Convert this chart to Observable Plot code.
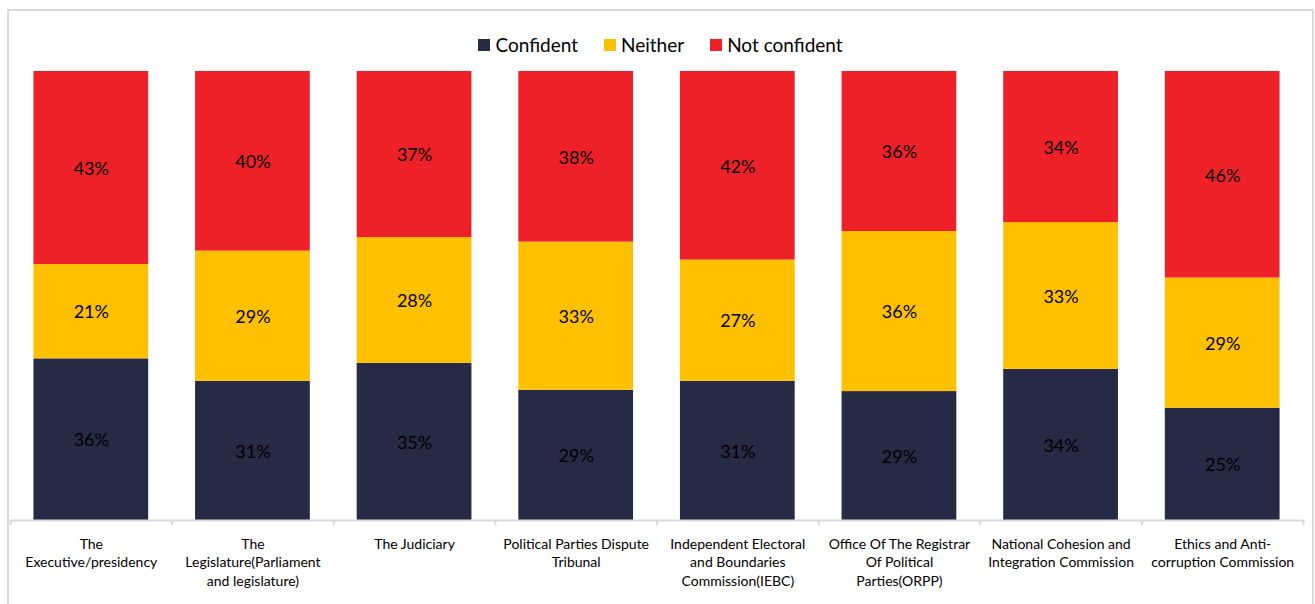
<!DOCTYPE html>
<html>
<head>
<meta charset="utf-8">
<script src="https://cdn.jsdelivr.net/npm/d3@7"></script>
<script src="https://cdn.jsdelivr.net/npm/@observablehq/plot@0.6"></script>
<style>
  html, body { margin: 0; padding: 0; background: #fff; }
  body { width: 1315px; height: 604px; position: relative; overflow: hidden; font-family: Lato, "Open Sans", sans-serif; }
  #frame { position: absolute; left: 7px; top: 9px; width: 1307px; height: 600px; border: 2px solid #d9d9d9; box-sizing: border-box; }
  #legend { position: absolute; left: 0; width: 1315px; top: 33px; display: flex; justify-content: center; gap: 26px; font-size: 19px; color: #000; padding-left: 6px; box-sizing: border-box; }
  #legend span.item { display: flex; align-items: center; gap: 5px; }
  #legend span.sw { width: 12px; height: 12px; display: inline-block; }
  #chart { position: absolute; left: 0; top: 0; }
</style>
</head>
<body>
<div id="frame"></div>
<div id="legend"></div>
<div id="chart"></div>
<script>
const categories = [
  "The Executive/presidency",
  "The Legislature(Parliament and legislature)",
  "The Judiciary",
  "Political Parties Dispute Tribunal",
  "Independent Electoral and Boundaries Commission(IEBC)",
  "Office Of The Registrar Of Political Parties(ORPP)",
  "National Cohesion and Integration Commission",
  "Ethics and Anti-corruption Commission"
];
const tickLabels = [
  "The\nExecutive/presidency",
  "The\nLegislature(Parliament\nand legislature)",
  "The Judiciary",
  "Political Parties Dispute\nTribunal",
  "Independent Electoral\nand Boundaries\nCommission(IEBC)",
  "Office Of The Registrar\nOf Political\nParties(ORPP)",
  "National Cohesion and\nIntegration Commission",
  "Ethics and Anti-\ncorruption Commission"
];
const seriesNames = ["Confident", "Neither", "Not confident"];
const seriesColors = ["#262A45", "#FFC000", "#EE2128"];
const confident    = [36, 31, 35, 29, 31, 29, 34, 25];
const neither      = [21, 29, 28, 33, 27, 36, 33, 29];
const notConfident = [43, 40, 37, 38, 42, 36, 34, 46];

const seriesValues = [confident, neither, notConfident];
const data = [];
seriesNames.forEach((s, si) => {
  categories.forEach((c, ci) => {
    data.push({category: c, series: s, value: seriesValues[si][ci]});
  });
});

// legend
const legend = document.getElementById("legend");
seriesNames.forEach((s, i) => {
  const item = document.createElement("span");
  item.className = "item";
  const sw = document.createElement("span");
  sw.className = "sw";
  sw.style.background = seriesColors[i];
  item.appendChild(sw);
  item.appendChild(document.createTextNode(s));
  legend.appendChild(item);
});

const W = 1315, H = 604, ml = 10, mr = 12;
const step = (W - ml - mr) / categories.length;
const labelMap = new Map(categories.map((c, i) => [c, tickLabels[i]]));

const chart = Plot.plot({
  width: W,
  height: H,
  marginTop: 71,
  marginBottom: 84,
  marginLeft: ml,
  marginRight: mr,
  style: {fontFamily: "Lato, 'Open Sans', sans-serif", background: "transparent"},
  x: {domain: categories, paddingInner: 0.29, paddingOuter: 0.145, round: false, axis: null},
  y: {domain: [0, 1], axis: null},
  color: {domain: seriesNames, range: seriesColors},
  marks: [
    Plot.barY(data, {x: "category", y: "value", z: "series", fill: "series", offset: "normalize", order: seriesNames}),
    Plot.text(data, Plot.stackY({x: "category", y: "value", z: "series", text: d => d.value + "%", offset: "normalize", order: seriesNames, fill: "#000", fontSize: 18, dy: 1})),
    Plot.ruleY([0], {stroke: "#d9d9d9", strokeWidth: 2}),
    Plot.ruleX(categories, {x: d => d, y1: 0, y2: 0, insetBottom: -5, dx: -step / 2, stroke: "#d9d9d9", strokeWidth: 2}),
    Plot.ruleX(categories.slice(-1), {x: d => d, y1: 0, y2: 0, insetBottom: -5, dx: step / 2, stroke: "#d9d9d9", strokeWidth: 2}),
    Plot.axisX({tickSize: 0, tickPadding: 15, fontSize: 14, tickFormat: d => labelMap.get(d), lineHeight: 1.33, fill: "#000", label: null})
  ]
});
document.getElementById("chart").appendChild(chart);
</script>
</body>
</html>
